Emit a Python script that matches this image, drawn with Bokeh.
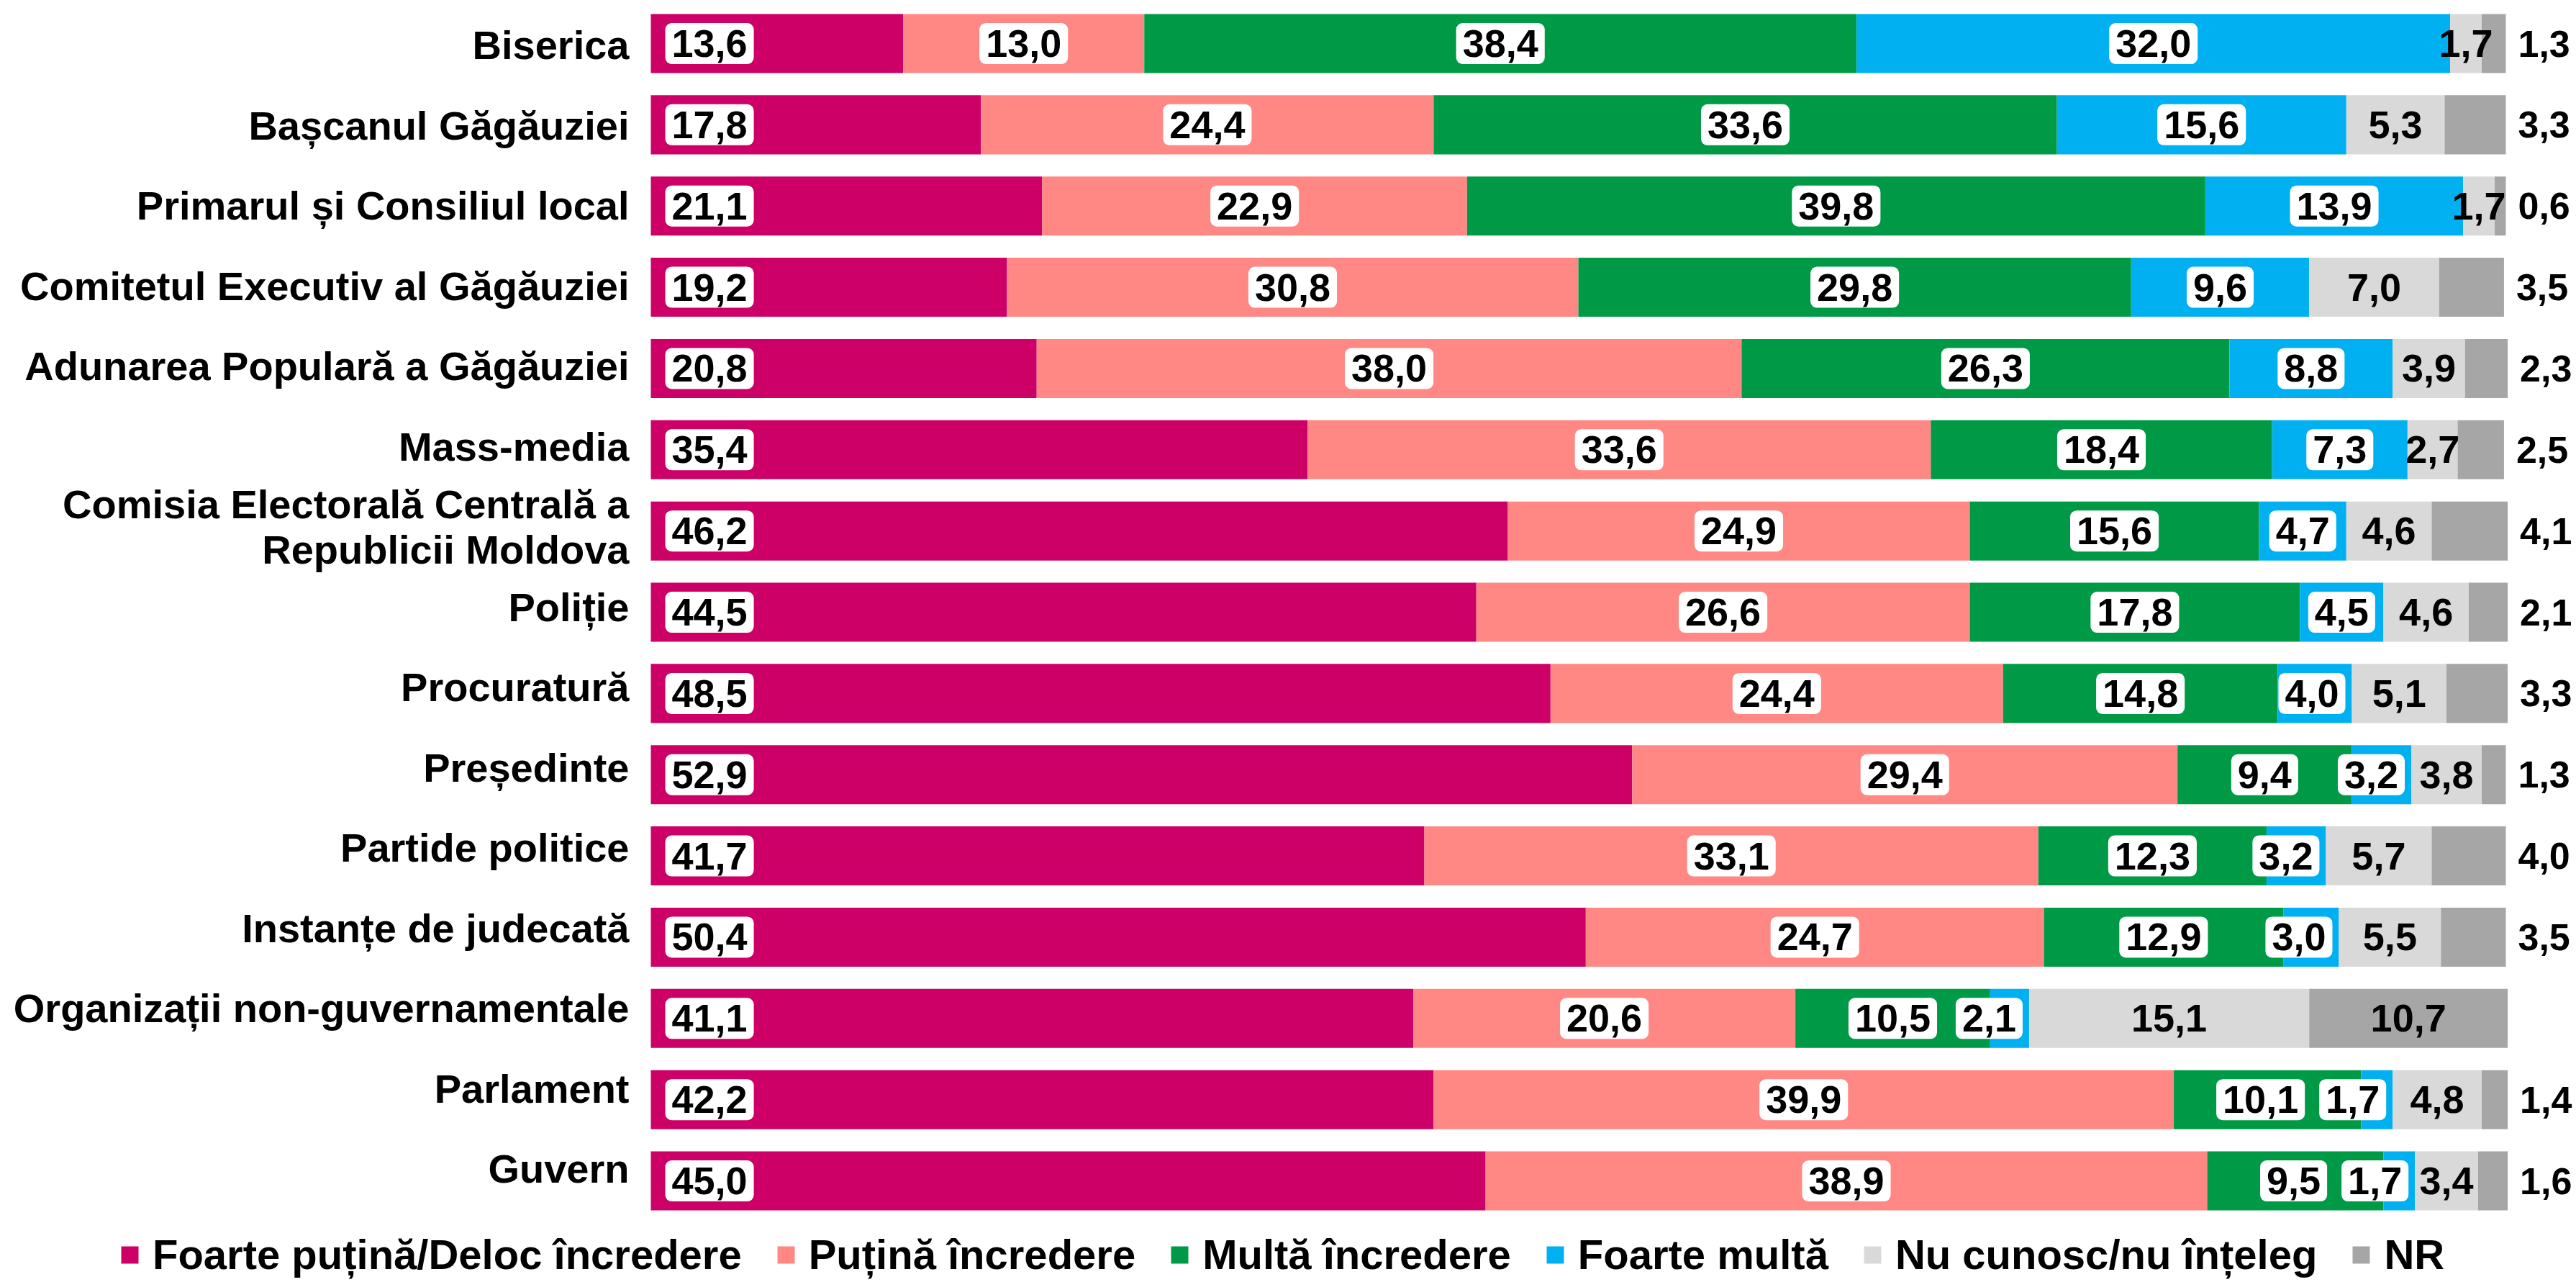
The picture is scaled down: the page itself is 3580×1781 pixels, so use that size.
from bokeh.plotting import figure
from bokeh.models import ColumnDataSource, Range1d, Legend, LegendItem
from bokeh.core.properties import value
from bokeh.embed import file_html
from bokeh.resources import INLINE

categories = [
    "Biserica",
    "Bașcanul Găgăuziei",
    "Primarul și Consiliul local",
    "Comitetul Executiv al Găgăuziei",
    "Adunarea Populară a Găgăuziei",
    "Mass-media",
    "Comisia Electorală Centrală a\nRepublicii Moldova",
    "Poliție",
    "Procuratură",
    "Președinte",
    "Partide politice",
    "Instanțe de judecată",
    "Organizații non-guvernamentale",
    "Parlament",
    "Guvern",
]
series_names = [
    "Foarte puțină/Deloc încredere",
    "Puțină încredere",
    "Multă încredere",
    "Foarte multă",
    "Nu cunosc/nu înțeleg",
    "NR",
]
foarte_putina = [13.6, 17.8, 21.1, 19.2, 20.8, 35.4, 46.2, 44.5, 48.5, 52.9, 41.7, 50.4, 41.1, 42.2, 45.0]
putina = [13.0, 24.4, 22.9, 30.8, 38.0, 33.6, 24.9, 26.6, 24.4, 29.4, 33.1, 24.7, 20.6, 39.9, 38.9]
multa = [38.4, 33.6, 39.8, 29.8, 26.3, 18.4, 15.6, 17.8, 14.8, 9.4, 12.3, 12.9, 10.5, 10.1, 9.5]
foarte_multa = [32.0, 15.6, 13.9, 9.6, 8.8, 7.3, 4.7, 4.5, 4.0, 3.2, 3.2, 3.0, 2.1, 1.7, 1.7]
nu_cunosc = [1.7, 5.3, 1.7, 7.0, 3.9, 2.7, 4.6, 4.6, 5.1, 3.8, 5.7, 5.5, 15.1, 4.8, 3.4]
nr = [1.3, 3.3, 0.6, 3.5, 2.3, 2.5, 4.1, 2.1, 3.3, 1.3, 4.0, 3.5, 10.7, 1.4, 1.6]
colors = ["#CC0066", "#FF8885", "#009A46", "#00B0F0", "#D9D9D9", "#A6A6A6"]

series = [foarte_putina, putina, multa, foarte_multa, nu_cunosc, nr]

FONT = value("Liberation Sans")
W, H = 3578, 1779
bar_left_px, bar_right_px = 904, 3482
ppu = (bar_right_px - bar_left_px) / 100.0
row0_px, row_step = 60, 112.86
x_start = -bar_left_px / ppu
x_end = (W - bar_left_px) / ppu
y_end = row0_px / row_step
y_start = -(H - row0_px) / row_step

p = figure(width=W, height=H, x_range=Range1d(x_start, x_end), y_range=Range1d(y_start, y_end),
           output_backend="svg", toolbar_location=None, min_border=0,
           x_axis_location=None, y_axis_location=None)
p.grid.visible = False
p.outline_line_color = None
p.background_fill_color = "white"

n = len(categories)
ypos = [-i for i in range(n)]

lefts = [[0.0] * n]
for s in series[:-1]:
    lefts.append([a + b for a, b in zip(lefts[-1], s)])
rights = [[a + b for a, b in zip(l, s)] for l, s in zip(lefts, series)]

renderers = []
for k in range(6):
    src = ColumnDataSource(dict(y=ypos, left=lefts[k], right=rights[k]))
    r = p.hbar(y="y", left="left", right="right", height=0.727, source=src,
               fill_color=colors[k], line_color=None)
    renderers.append(r)

def fmt(v):
    return f"{v:.1f}".replace(".", ",")

FS = 54
PADX = 9
def est_w(s):
    return (sum(0.556 if ch.isdigit() else 0.278 for ch in s) * FS + 2 * PADX) / ppu

# boxed labels for series 1-3 (centered, kept inside the segment's right end)
bx, by, bt = [], [], []
for i in range(n):
    centers = {}
    for k in [3, 2, 1]:
        t = fmt(series[k][i])
        w = est_w(t)
        c = (lefts[k][i] + rights[k][i]) / 2
        c = min(c, rights[k][i] - w / 2 - 9 / ppu)
        if (k + 1) in centers:
            nxt_left = centers[k + 1][0] - centers[k + 1][1] / 2
            if c + w / 2 > nxt_left - 20 / ppu:
                c = nxt_left - 20 / ppu - w / 2
        centers[k] = (c, w)
    for k in [1, 2, 3]:
        bx.append(centers[k][0]); by.append(ypos[i]); bt.append(fmt(series[k][i]))

box_style = dict(text_font=FONT, text_font_style="bold", text_font_size=f"{FS}px",
                 text_baseline="middle", text_color="black",
                 background_fill_color="white", border_radius=9, padding=(PADX, PADX, 10, 10))

p.text(x="x", y="y", text="t", source=ColumnDataSource(dict(x=bx, y=by, t=bt)),
       text_align="center", **box_style)
p.text(x="x", y="y", text="t",
       source=ColumnDataSource(dict(x=[0.0] * n, y=ypos, t=[fmt(v) for v in foarte_putina])),
       text_align="left", x_offset=11 + PADX, **box_style)

# plain labels (Nu cunosc, NR)
px_, py_, pt_ = [], [], []
ox, oy, ot = [], [], []
for i in range(n):
    px_.append((lefts[4][i] + rights[4][i]) / 2); py_.append(ypos[i]); pt_.append(fmt(nu_cunosc[i]))
    if nr[i] >= 5:
        px_.append((lefts[5][i] + rights[5][i]) / 2); py_.append(ypos[i]); pt_.append(fmt(nr[i]))
    else:
        ox.append(rights[5][i]); oy.append(ypos[i]); ot.append(fmt(nr[i]))

p.text(x="x", y="y", text="t", source=ColumnDataSource(dict(x=px_, y=py_, t=pt_)), text_font=FONT,
       text_font_style="bold", text_font_size=f"{FS}px", text_align="center", text_baseline="middle",
       text_color="black")
p.text(x="x", y="y", text="t", source=ColumnDataSource(dict(x=ox, y=oy, t=ot)), text_font=FONT,
       text_font_style="bold", text_font_size="52px", text_align="left", text_baseline="middle",
       text_color="black", x_offset=17)

# category labels (drifting slightly upward towards the bottom, as in the original)
cat_y = [-i + (1.35 * i - 2) / row_step for i in range(n)]
p.text(x="x", y="y", text="t", source=ColumnDataSource(dict(x=[0.0] * n, y=cat_y, t=categories)),
       text_font=FONT, text_font_style="bold", text_font_size="56px", text_align="right",
       text_baseline="middle", text_color="black", x_offset=-30, text_line_height=1.0)

legend = Legend(items=[LegendItem(label=nm, renderers=[r]) for nm, r in zip(series_names, renderers)],
                orientation="horizontal", location=(165, 3), label_text_font="Liberation Sans",
                label_text_font_style="bold", label_text_font_size="58px", label_text_color="black",
                glyph_width=30, glyph_height=30, label_standoff=17, spacing=46, padding=0, margin=0,
                border_line_color=None, background_fill_alpha=0, label_height=30)
p.add_layout(legend)

open("out.html", "w").write(file_html(p, INLINE))
